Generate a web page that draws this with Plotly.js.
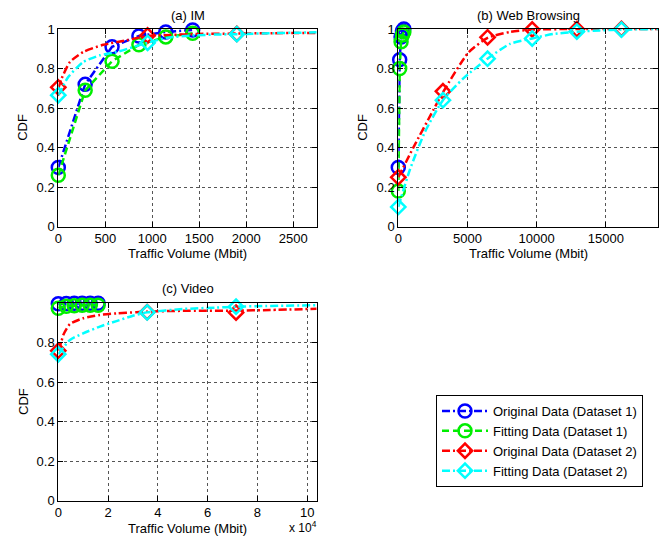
<!DOCTYPE html>
<html>
<head>
<meta charset="utf-8">
<script src="https://cdn.plot.ly/plotly-3.0.1.min.js"></script>
<style>html,body{margin:0;padding:0;background:#fff;}#chart{width:661px;height:537px;}</style>
</head>
<body>
<div id="chart"></div>
<script>
// ---------- (a) IM ----------
var imD1X = [0, 286, 572, 858, 1144, 1430];
var imOrig1Y = [0.30, 0.72, 0.91, 0.965, 0.985, 0.995];
var imFit1Y = [0.26, 0.69, 0.837, 0.92, 0.96, 0.978];
var imOrig2CurveX = [0, 36, 124, 266, 479, 727, 950, 1200, 1500, 1900, 2300, 2750];
var imOrig2CurveY = [0.70, 0.75, 0.833, 0.884, 0.92, 0.943, 0.965, 0.97, 0.975, 0.977, 0.979, 0.98];
var imOrig2MarkX = [0, 950, 1900];
var imOrig2MarkY = [0.705, 0.967, 0.975];
var imFit2CurveX = [0, 106, 266, 444, 621, 798, 947, 1153, 1450, 1685, 1904, 2300, 2750];
var imFit2CurveY = [0.665, 0.757, 0.833, 0.867, 0.884, 0.909, 0.93, 0.955, 0.968, 0.972, 0.974, 0.979, 0.983];
var imFit2MarkX = [0, 950, 1900];
var imFit2MarkY = [0.665, 0.93, 0.974];

// ---------- (b) Web Browsing ----------
var webD1X = [0, 100, 200, 300, 400];
var webOrig1Y = [0.30, 0.845, 0.96, 0.99, 1.0];
var webFit1Y = [0.18, 0.80, 0.935, 0.97, 0.985];
var webOrig2CurveX = [0, 1084, 2529, 3225, 5058, 6450, 8071, 9675, 12900, 16125, 18765];
var webOrig2CurveY = [0.25, 0.40, 0.59, 0.68, 0.88, 0.955, 0.985, 0.997, 1.0, 1.0, 1.0];
var webOrig2MarkX = [0, 3225, 6450, 9675, 12900, 16125];
var webOrig2MarkY = [0.25, 0.685, 0.958, 0.998, 0.999, 1.0];
var webFit2CurveX = [0, 845, 1930, 3225, 4700, 6450, 8071, 9675, 11200, 12900, 14574, 16125, 18765];
var webFit2CurveY = [0.10, 0.29, 0.48, 0.64, 0.75, 0.85, 0.925, 0.952, 0.975, 0.986, 0.993, 0.997, 1.0];
var webFit2MarkX = [0, 3225, 6450, 9675, 12900, 16125];
var webFit2MarkY = [0.10, 0.64, 0.85, 0.952, 0.987, 0.997];

// ---------- (c) Video ----------
var vidD1X = [0, 3200, 6400, 9600, 12800, 16000];
var vidOrig1Y = [0.998, 0.999, 1.0, 1.0, 1.0, 1.0];
var vidFit1Y = [0.975, 0.985, 0.988, 0.99, 0.99, 0.99];
var vidOrig2CurveX = [0, 1333, 2000, 4680, 10000, 16680, 23360, 31360, 35700, 50000, 71400, 85000, 103800];
var vidOrig2CurveY = [0.76, 0.81, 0.84, 0.895, 0.924, 0.941, 0.949, 0.955, 0.958, 0.962, 0.963, 0.966, 0.972];
var vidOrig2MarkX = [0, 35700, 71400];
var vidOrig2MarkY = [0.76, 0.955, 0.953];
var vidFit2CurveX = [0, 4680, 10000, 16680, 23360, 30000, 35700, 50000, 63360, 71400, 83360, 103800];
var vidFit2CurveY = [0.742, 0.814, 0.848, 0.882, 0.91, 0.937, 0.954, 0.971, 0.978, 0.983, 0.986, 0.99];
var vidFit2MarkX = [0, 35700, 71400];
var vidFit2MarkY = [0.742, 0.954, 0.983];

var seriesNames = ['Original Data (Dataset 1)', 'Fitting Data (Dataset 1)', 'Original Data (Dataset 2)', 'Fitting Data (Dataset 2)'];
var videoXTicks = [0, 20000, 40000, 60000, 80000, 100000];
var videoXTickText = ['0', '2', '4', '6', '8', '10'];

// ---------- styles ----------
var FONT = 'Liberation Sans, Arial, Helvetica, sans-serif';
var LW = 2.5;
var styles = [
  {color: '#0000ff', dash: '8px,3px,2px,3px', symbol: 'circle-open', size: 13},
  {color: '#00ee00', dash: '7px,4px', symbol: 'circle-open', size: 13},
  {color: '#ff0000', dash: '8px,3px,2px,3px', symbol: 'diamond-open', size: 11},
  {color: '#00ffff', dash: '8px,3px,2px,3px', symbol: 'diamond-open', size: 11}
];

function lineMarkers(x, y, s, xa, ya) {
  return {x: x, y: y, xaxis: xa, yaxis: ya, type: 'scatter', mode: 'lines+markers', showlegend: false,
    cliponaxis: false, hoverinfo: 'skip',
    line: {color: s.color, width: LW, dash: s.dash},
    marker: {symbol: s.symbol, size: s.size, color: s.color, line: {color: s.color, width: LW}}};
}
function curve(x, y, s, xa, ya) {
  return {x: x, y: y, xaxis: xa, yaxis: ya, type: 'scatter', mode: 'lines', showlegend: false,
    cliponaxis: false, hoverinfo: 'skip',
    line: {color: s.color, width: LW, dash: s.dash, shape: 'spline', smoothing: 0.6}};
}
function marks(x, y, s, xa, ya) {
  return {x: x, y: y, xaxis: xa, yaxis: ya, type: 'scatter', mode: 'markers', showlegend: false,
    cliponaxis: false, hoverinfo: 'skip',
    marker: {symbol: s.symbol, size: s.size, color: s.color, line: {color: s.color, width: LW}}};
}

var data = [];
// (a)
data.push(lineMarkers(imD1X, imOrig1Y, styles[0], 'x', 'y'));
data.push(lineMarkers(imD1X, imFit1Y, styles[1], 'x', 'y'));
data.push(curve(imOrig2CurveX, imOrig2CurveY, styles[2], 'x', 'y'));
data.push(marks(imOrig2MarkX, imOrig2MarkY, styles[2], 'x', 'y'));
data.push(curve(imFit2CurveX, imFit2CurveY, styles[3], 'x', 'y'));
data.push(marks(imFit2MarkX, imFit2MarkY, styles[3], 'x', 'y'));
// (b)
data.push(lineMarkers(webD1X, webOrig1Y, styles[0], 'x2', 'y2'));
data.push(lineMarkers(webD1X, webFit1Y, styles[1], 'x2', 'y2'));
data.push(curve(webOrig2CurveX, webOrig2CurveY, styles[2], 'x2', 'y2'));
data.push(marks(webOrig2MarkX, webOrig2MarkY, styles[2], 'x2', 'y2'));
data.push(curve(webFit2CurveX, webFit2CurveY, styles[3], 'x2', 'y2'));
data.push(marks(webFit2MarkX, webFit2MarkY, styles[3], 'x2', 'y2'));
// (c)
data.push(lineMarkers(vidD1X, vidOrig1Y, styles[0], 'x3', 'y3'));
data.push(lineMarkers(vidD1X, vidFit1Y, styles[1], 'x3', 'y3'));
data.push(curve(vidOrig2CurveX, vidOrig2CurveY, styles[2], 'x3', 'y3'));
data.push(marks(vidOrig2MarkX, vidOrig2MarkY, styles[2], 'x3', 'y3'));
data.push(curve(vidFit2CurveX, vidFit2CurveY, styles[3], 'x3', 'y3'));
data.push(marks(vidFit2MarkX, vidFit2MarkY, styles[3], 'x3', 'y3'));
// legend-only entries
seriesNames.forEach(function (n, i) {
  var s = styles[i];
  data.push({x: [null], y: [null], xaxis: 'x', yaxis: 'y', type: 'scatter', mode: 'lines+markers', name: n,
    showlegend: true, line: {color: s.color, width: LW, dash: s.dash},
    marker: {symbol: s.symbol, size: s.size, color: s.color, line: {color: s.color, width: LW}}});
});

var W = 661, H = 537;
function px(a, b) { return [a / W, b / W]; }
function py(top, bottom) { return [1 - bottom / H, 1 - top / H]; }

function axisBase() {
  return {showline: true, linecolor: '#000', linewidth: 1, mirror: 'ticks', ticks: 'inside', ticklen: 5,
    tickcolor: '#000', tickwidth: 1, showgrid: true, gridcolor: '#555', griddash: 'dot', gridwidth: 1,
    zeroline: false, tickfont: {family: FONT, size: 13, color: '#000'}, fixedrange: true, tickformat: 'd'};
}
function xax(dom, range, extra, anchor) {
  var a = axisBase(); a.domain = dom; a.range = range; a.anchor = anchor;
  for (var k in extra) a[k] = extra[k];
  return a;
}

var domA = px(58.3, 316.7), domB = px(398.3, 658), domTop = py(29, 226.7), domBot = py(303.3, 500.7);

var layout = {
  width: W, height: H, margin: {l: 0, r: 0, t: 0, b: 0}, paper_bgcolor: '#fff', plot_bgcolor: '#fff',
  font: {family: FONT, size: 13, color: '#000'},
  xaxis: xax(domA, [0, 2750], {tickmode: 'linear', tick0: 0, dtick: 500}, 'y'),
  yaxis: xax(domTop, [0, 1], {tickmode: 'linear', tick0: 0, dtick: 0.2, tickformat: ''}, 'x'),
  xaxis2: xax(domB, [0, 18765], {tickmode: 'linear', tick0: 0, dtick: 5000}, 'y2'),
  yaxis2: xax(domTop, [0, 1], {tickmode: 'linear', tick0: 0, dtick: 0.2, tickformat: ''}, 'x2'),
  xaxis3: xax(domA, [0, 103800], {tickmode: 'array', tickvals: videoXTicks, ticktext: videoXTickText}, 'y3'),
  yaxis3: xax(domBot, [0, 1], {tickmode: 'array', tickvals: [0, 0.2, 0.4, 0.6, 0.8], tickformat: ''}, 'x3'),
  legend: {x: 436 / W, y: 1 - 395 / H, xanchor: 'left', yanchor: 'top', bgcolor: '#fff', bordercolor: '#000',
    borderwidth: 1, font: {family: FONT, size: 13, color: '#000'}, itemwidth: 46, tracegroupgap: 0},
  showlegend: true,
  annotations: [
    {text: '(a) IM', x: (domA[0] + domA[1]) / 2, y: 1 - 15 / H},
    {text: '(b) Web Browsing', x: (domB[0] + domB[1]) / 2, y: 1 - 15 / H},
    {text: '(c) Video', x: (domA[0] + domA[1]) / 2, y: 1 - 288 / H},
    {text: 'CDF', x: 23 / W, y: (domTop[0] + domTop[1]) / 2, textangle: -90},
    {text: 'CDF', x: 363 / W, y: (domTop[0] + domTop[1]) / 2, textangle: -90},
    {text: 'CDF', x: 23 / W, y: (domBot[0] + domBot[1]) / 2, textangle: -90},
    {text: 'Traffic Volume (Mbit)', x: (domA[0] + domA[1]) / 2, y: 1 - 253 / H},
    {text: 'Traffic Volume (Mbit)', x: (domB[0] + domB[1]) / 2, y: 1 - 253 / H},
    {text: 'Traffic Volume (Mbit)', x: (domA[0] + domA[1]) / 2, y: 1 - 528 / H},
    {text: 'x 10<sup>4</sup>', x: 287 / W, y: 0, xanchor: 'left', yanchor: 'bottom', font: {family: FONT, size: 12, color: '#000'}}
  ].map(function (a) {
    var o = {xref: 'paper', yref: 'paper', showarrow: false, xanchor: 'center', yanchor: 'middle',
      font: {family: FONT, size: 13, color: '#000'}};
    for (var k in a) o[k] = a[k];
    return o;
  })
};

Plotly.newPlot('chart', data, layout, {displayModeBar: false, staticPlot: true});
</script>
</body>
</html>
